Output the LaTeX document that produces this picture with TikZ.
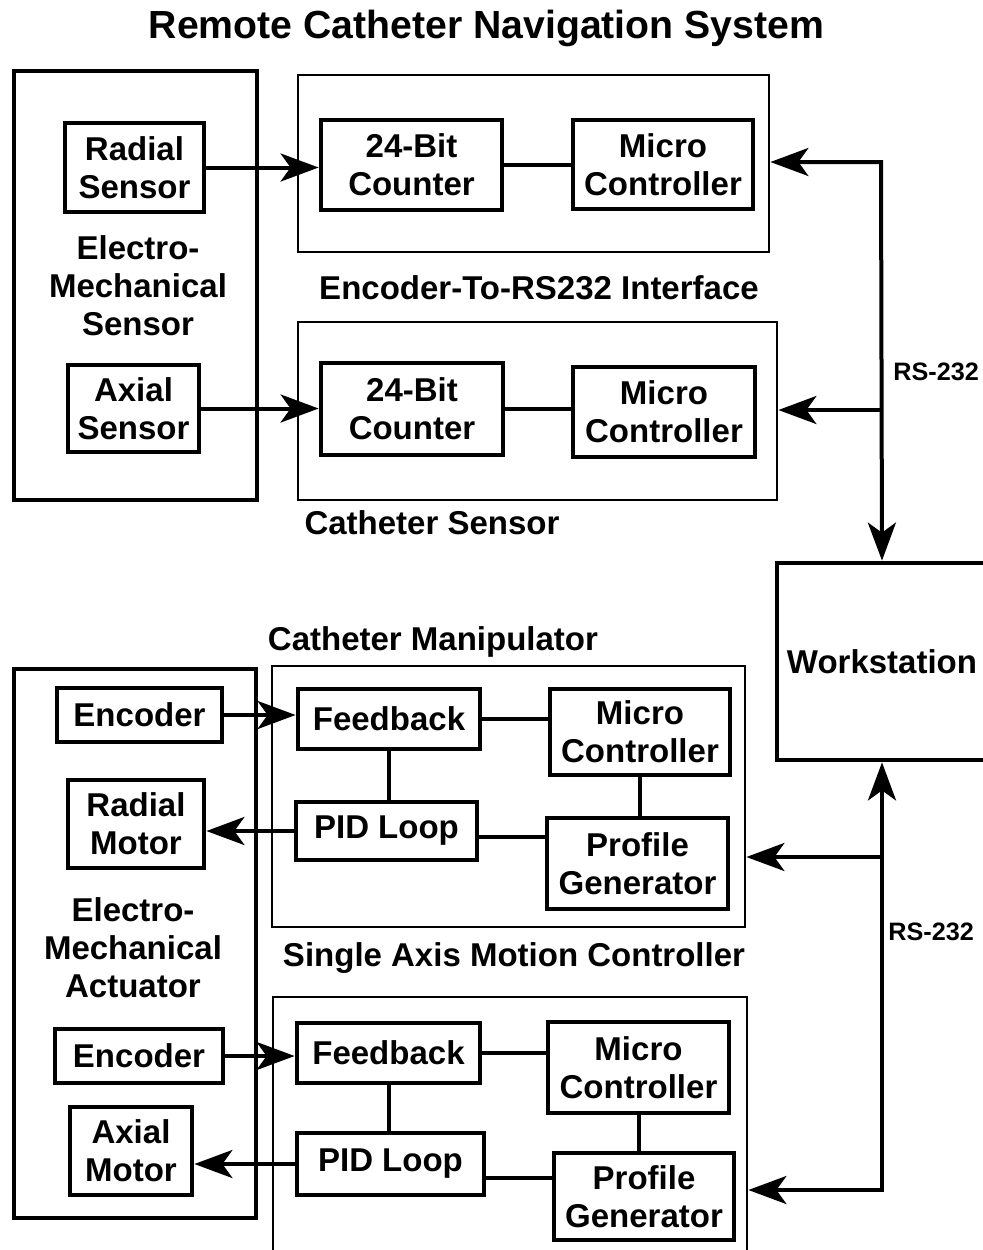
\documentclass[tikz,border=0pt]{standalone}
\usepackage{fontspec}
\setmainfont{Liberation Sans}
\usetikzlibrary{arrows.meta,calc}

\newcommand{\blkfont}{\fontsize{16.5}{19}\selectfont\bfseries}
\tikzset{
    blk/.style={draw,line width=2.4pt,inner sep=0pt,align=center,font=\blkfont},
    outer/.style={draw,line width=2pt,inner sep=0pt},
    cont/.style={draw,line width=1.4pt,inner sep=0pt},
    sz/.style 2 args={minimum width=#1*0.5pt,minimum height=#2*0.5pt},
    lbl/.style={align=center,font=\blkfont},
    rslbl/.style={anchor=west,inner sep=0pt,font=\fontsize{12.6}{15}\selectfont\bfseries},
    conn/.style={line width=2pt},
    arr/.style={line width=2pt,-{Stealth[length=19pt,width=14pt,inset=5pt]}},
    arrtwo/.style={line width=2pt,{Stealth[length=19pt,width=14pt,inset=5pt]}-{Stealth[length=19pt,width=14pt,inset=5pt]}}
}

\begin{document}
\begin{tikzpicture}[x=0.5pt,y=-0.5pt]
\useasboundingbox (0,0) rectangle (982,1250);
%\draw [help lines,step=50] (0,0) grid (982,1250);
\node[font=\fontsize{19.6}{22}\selectfont\bfseries] (title) at (486.5,28) {Remote Catheter Navigation System};

% sensor side
\node[outer,sz={243}{429}] (ems) at (135.5,285.5) {};
\node[blk,sz={139}{89}] (rsen) at (134.5,167.5) {Radial\\Sensor};
\node[lbl] (emsl) at (138,286) {Electro-\\Mechanical\\Sensor};
\node[blk,sz={131}{87}] (asen) at (133.5,408.5) {Axial\\Sensor};

\node[cont,sz={471}{177}] (enc) at (533.5,163.5) {};
\node[blk,sz={181}{90}] (cnt1) at (411.5,165) {24-Bit\\Counter};
\node[blk,sz={180}{89}] (mc1) at (663,164.5) {Micro\\Controller};
\node[lbl] (encl) at (539,288) {Encoder-To-RS232 Interface};

\node[cont,sz={479}{178}] (cs) at (537.5,411) {};
\node[blk,sz={182}{92}] (cnt2) at (412,409) {24-Bit\\Counter};
\node[blk,sz={182}{90}] (mc2) at (664,412) {Micro\\Controller};
\node[lbl] (csl) at (432,523) {Catheter Sensor};

\node[blk,sz={210}{197}] (ws) at (882,661.5) {Workstation};

% actuator side
\node[lbl] (cml) at (433,642) {Catheter Manipulator};
\node[outer,sz={242}{549}] (ema) at (135,943.5) {};
\node[blk,sz={165}{54}] (enc1) at (139.5,715) {Encoder};
\node[blk,sz={136}{88}] (rmot) at (136,824) {Radial\\Motor};
\node[lbl] (emal) at (133,948) {Electro-\\Mechanical\\Actuator};
\node[blk,sz={168}{54}] (enc2) at (139,1056) {Encoder};
\node[blk,sz={122}{88}] (amot) at (131,1151) {Axial\\Motor};

\node[cont,sz={473}{261}] (cm) at (508.5,796.5) {};
\node[blk,sz={182}{60}] (fb1) at (389,719) {Feedback};
\node[blk,sz={181}{58}] (pid1) at (386.5,831) {PID Loop};
\node[blk,sz={180}{86}] (mcc1) at (640,732) {Micro\\Controller};
\node[blk,sz={181}{91}] (pg1) at (637.5,863.5) {Profile\\Generator};
\node[lbl] (sal) at (514,958) {Single Axis Motion Controller};

\node[cont,sz={474}{300}] (sa) at (510,1147) {};
\node[blk,sz={183}{60}] (fb2) at (388.5,1053) {Feedback};
\node[blk,sz={187}{62}] (pid2) at (390.5,1164) {PID Loop};
\node[blk,sz={181}{91}] (mcc2) at (638.5,1067.5) {Micro\\Controller};
\node[blk,sz={180}{87}] (pg2) at (644,1196.5) {Profile\\Generator};

% RS-232 lines
\coordinate (b1) at (881,162);
\coordinate (b2) at (881,410);
\coordinate (b3) at (882,857);
\coordinate (b4) at (882,1190);
\node[rslbl] (rs1) at (893,372) {RS-232};
\node[rslbl] (rs2) at (888,932) {RS-232};

\draw[arrtwo] (enc.east |- b1) -- (b1) -- (ws.north);
\draw[arr] (b2) -- (cs.east |- b2);
\draw[arrtwo] (sa.east |- b4) -- (b4) -- (ws.south);
\draw[arr] (b3) -- (cm.east |- b3);

% connectors
\draw[arr] (rsen.east) -- (rsen.east -| cnt1.west);
\draw[arr] (asen.east) -- (asen.east -| cnt2.west);
\draw[conn] (cnt1.east) -- (cnt1.east -| mc1.west);
\draw[conn] (cnt2.east) -- (cnt2.east -| mc2.west);

\draw[arr] (enc1.east) -- (enc1.east -| fb1.west);
\draw[arr] (pid1.west) -- (pid1.west -| rmot.east);
\draw[conn] (fb1.east) -- (fb1.east -| mcc1.west);
\draw[conn] (fb1.south) -- (fb1.south |- pid1.north);
\draw[conn] (mcc1.south) -- (mcc1.south |- pg1.north);
\draw[conn] ($(pid1.east)+(0,6)$) -- ($(pid1.east -| pg1.west)+(0,6)$);

\draw[arr] (enc2.east) -- (enc2.east -| fb2.west);
\draw[arr] (pid2.west) -- (pid2.west -| amot.east);
\draw[conn] (fb2.east) -- (fb2.east -| mcc2.west);
\draw[conn] (fb2.south) -- (fb2.south |- pid2.north);
\draw[conn] (mcc2.south) -- (mcc2.south |- pg2.north);
\draw[conn] ($(pid2.east)+(0,14)$) -- ($(pid2.east -| pg2.west)+(0,14)$);
\end{tikzpicture}
\end{document}
